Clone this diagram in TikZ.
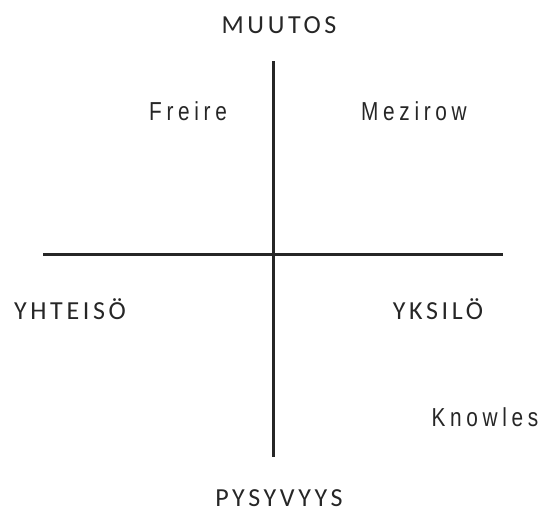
\documentclass[tikz,border=0pt]{standalone}
\usepackage{fontspec}
\setmainfont[LetterSpace=14]{Carlito}
\newfontfamily\namefont[FakeStretch=0.8,LetterSpace=18]{Liberation Sans}
\usetikzlibrary{calc, positioning}

\begin{document}
\begin{tikzpicture}[x=1pt,y=-1pt,font=\fontsize{26}{31}\selectfont]
\useasboundingbox (0,0) rectangle (541,515);
\def\midx{273.5}
\def\midy{254.5}
\coordinate (Top) at (\midx,61);
\coordinate (Bottom) at (\midx,457);
\coordinate (Left) at (43,\midy);
\coordinate (Right) at (503,\midy);

\tikzset{axisline/.style={line width=2.4pt,black!85},
    thinker/.style={font=\namefont\fontsize{26}{31}\selectfont,text=black!85,inner sep=0pt,anchor=base},
    pole/.style={text=black!85,inner sep=0pt,anchor=base}}

\draw[axisline] (Top) -- (Bottom);
\draw[axisline] (Left) -- (Right);

\node[pole] (Muutos) at (279,33) {MUUTOS};
\node[pole] (Pysyvyys) at (279,506) {PYSYVYYS};
\node[pole] (Yhteiso) at (70,319) {YHTEISÖ};
\node[pole] (Yksilo) at (438,319) {YKSILÖ};

\node[thinker] (Freire) at (188,120) {Freire};
\node[thinker] (Mezirow) at (414,120) {Mezirow};
\node[thinker] (Knowles) at (485,426) {Knowles};
\end{tikzpicture}
\end{document}
